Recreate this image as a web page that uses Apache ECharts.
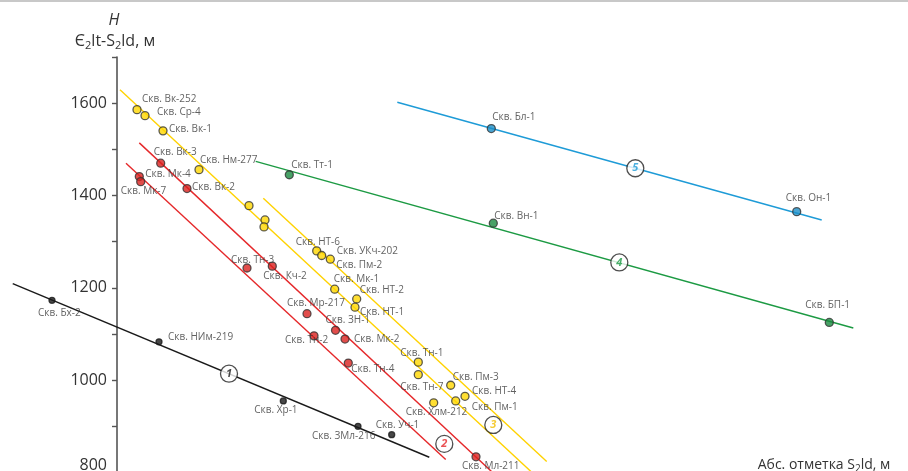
<!DOCTYPE html>
<html><head><meta charset="utf-8">
<script src="https://cdn.jsdelivr.net/npm/echarts@6/dist/echarts.min.js"></script>
<style>html,body{margin:0;padding:0;background:#fff}#c{width:908px;height:471px}</style>
</head><body><div id="c"></div>
<script>
// ---- data (x: абс. отметка S2ld, условные единицы; H: мощность Є2lt-S2ld, м) ----
const yellowNames = ['Скв. Вк-252','Скв. Ср-4','Скв. Вк-1','Скв. Нм-277','','','','Скв. НТ-6','Скв. УКч-202','Скв. Пм-2','Скв. Мк-1','Скв. НТ-2','Скв. НТ-1','Скв. Тн-1','Скв. Тн-7','Скв. Пм-3','Скв. НТ-4','Скв. Пм-1','Скв. Хлм-212'];
const yellowX = [20,28,46,82,132,148,147,199.7,204.7,213.3,217.7,239.7,238,301.3,301.3,333.7,348,338.7,316.7];
const yellowH = [1586,1573,1540,1456,1378,1347,1332,1280,1270,1262,1197,1176,1158,1039,1012,989,965,955,951];

const redNames = ['Скв. Вк-3','Скв. Мк-4','Скв. Мк-7','Скв. Вк-2','Скв. Тн-3','Скв. Кч-2','Скв. Мр-217','Скв. ЗН-1','Скв. Тн-2','Скв. Мк-2','Скв. Тн-4','Скв. Мл-211'];
const redX = [43.7,22.3,23.7,70,130,155.3,190,218.5,197,228,231.3,359];
const redH = [1470,1441,1430,1415,1243,1247,1144,1108,1096,1089,1037,834];

const blackNames = ['Скв. Бх-2','Скв. НИм-219','Скв. Хр-1','Скв. ЗМл-216','Скв. Уч-1'];
const blackX = [-65,42,166.3,241,274.7];
const blackH = [1173,1083,955,900,882];

const greenNames = ['Скв. Тт-1','Скв. Вн-1','Скв. БП-1'];
const greenX = [172.3,376.3,712.3];
const greenH = [1445,1340,1125];

const blueNames = ['Скв. Бл-1','Скв. Он-1'];
const blueX = [374.3,679.7];
const blueH = [1545,1365];

// trend lines (end points)
const lineBlackX = [-104.3,312.3],  lineBlackH = [1209,833];
const lineRedAX = [9,328.7],        lineRedAH = [1470,828];
const lineRedBX = [22.3,375.6],     lineRedBH = [1514,800];
const lineYellowAX = [3,415],       lineYellowAH = [1629,800];
const lineYellowBX = [146.3,429.7], lineYellowBH = [1394,824];
const lineGreenX = [138.7,736.3],   lineGreenH = [1474,1113];
const lineBlueX = [280.3,704.7],    lineBlueH = [1602,1347];

// zone markers
const badgeText = ['1','2','3','4','5'];
const badgeX = [112,327.3,376.3,502.3,518.3];
const badgeH = [1014,862,903,1255,1459];

const yTicks = [800,1000,1200,1400,1600];

// ---- layout (label offsets, px) ----
const yellowOff = [[5,-10],[12,-3],[6,-2],[1,-9],[0,0],[0,0],[0,0],[-21,-9],[15,-4],[6,6],[-1,-10],[3,-9],[5,5],[-18,-9],[-18,13],[2,-8],[7,-5],[16,6],[-28,9]];
const redOff = [[-7,-11],[6,-2],[-20,10],[5,-1],[-16,-8],[-9,10],[-20,-11],[-10,-10],[-29,4],[9,0],[3,6],[-14,9]];
const blackOff = [[-14,13],[9,-5],[-29,9],[-46,10],[-16,-9]];
const greenOff = [[2,-10],[1,-7],[-24,-17]];
const blueOff = [[1,-11],[-11,-14]];

const FONT = '"Open Sans", "Noto Sans", sans-serif';
const C = {yellow:'#FFD200', red:'#E5282A', black:'#1a1a1a', green:'#1C9A43', blue:'#1E9BD7'};

function pts(names, xs, hs, offs){
  return names.map((n,i)=>({name:n, value:[xs[i],hs[i]], label:{offset:offs[i]}}));
}
function lineSeries(xs, hs, color){
  return {type:'line', data:xs.map((x,i)=>[x,hs[i]]), symbol:'none', silent:true, z:2,
          lineStyle:{color:color, width:1.4}};
}
function scatterSeries(data, fill, border, size){
  return {type:'scatter', data:data, symbol:'circle', symbolSize:size, z:5, silent:true,
    itemStyle:{color:fill, borderColor:border, borderWidth:1.3},
    label:{show:true, position:'inside', align:'left', verticalAlign:'middle',
      formatter:p=>p.name, fontSize:10, color:'#3a3a3a', fontFamily:FONT}};
}
const badgeColors = [C.black, C.red, '#F2BE00', C.green, C.blue];

const chart = echarts.init(document.getElementById('c'));
chart.setOption({
  animation:false,
  backgroundColor:'#fff',
  grid:{left:0, right:0, top:57, height:415.5, outerBoundsMode:'none'},
  xAxis:{type:'value', min:-117, max:791, show:false},
  yAxis:{type:'value', min:800, max:1700, interval:100, position:'left', offset:-117,
    axisLine:{show:true, onZero:false, lineStyle:{color:'#555', width:1.6}},
    axisTick:{show:true, length:5, lineStyle:{color:'#555', width:1.4}},
    axisLabel:{show:true, fontSize:16, color:'#333', margin:10, fontFamily:FONT,
      formatter:function(v){
        const n = Number(v);
        if (yTicks.indexOf(n) < 0) return '';
        return n === yTicks[0] ? '{b|' + n + '}' : String(n);
      },
      rich:{b:{fontSize:16, color:'#333', fontFamily:FONT, padding:[0,0,14,0]}}},
    splitLine:{show:false}},
  series:[
    lineSeries(lineBlackX,lineBlackH,C.black),
    lineSeries(lineRedAX,lineRedAH,C.red),
    lineSeries(lineRedBX,lineRedBH,C.red),
    lineSeries(lineYellowAX,lineYellowAH,C.yellow),
    lineSeries(lineYellowBX,lineYellowBH,C.yellow),
    lineSeries(lineGreenX,lineGreenH,C.green),
    lineSeries(lineBlueX,lineBlueH,C.blue),
    scatterSeries(pts(yellowNames,yellowX,yellowH,yellowOff),'#FFD700','#333',8),
    scatterSeries(pts(redNames,redX,redH,redOff),'#D9201E','#333',8),
    scatterSeries(pts(blackNames,blackX,blackH,blackOff),'#1a1a1a','#1a1a1a',6),
    scatterSeries(pts(greenNames,greenX,greenH,greenOff),'#1a8a40','#333',8),
    scatterSeries(pts(blueNames,blueX,blueH,blueOff),'#1b8fc8','#333',8),
    {type:'scatter', z:6, silent:true, symbol:'circle', symbolSize:17,
      itemStyle:{color:'#fff', borderColor:'#222', borderWidth:1.3},
      data:badgeText.map((t,i)=>({name:t, value:[badgeX[i],badgeH[i]], label:{color:badgeColors[i]}})),
      label:{show:true, position:'inside', formatter:p=>p.name, fontSize:11, fontStyle:'italic',
        fontWeight:'bold', fontFamily:FONT}}
  ],
  graphic:[
    {type:'rect', shape:{x:0,y:0,width:908,height:2}, style:{fill:'#c8c8c8'}, silent:true},
    {type:'text', x:114, y:20, silent:true, style:{text:'H', font:'italic 16px "Open Sans"', fill:'#333', textAlign:'center', textVerticalAlign:'middle'}},
    {type:'text', x:115, y:41, silent:true, style:{text:'{a|Є}{s|2}{a|lt-S}{s|2}{a|ld, м}', textAlign:'center', textVerticalAlign:'middle',
      rich:{a:{fontSize:16, fontFamily:FONT, fill:'#333', color:'#333', lineHeight:20}, s:{fontSize:11, fontFamily:FONT, color:'#333', fill:'#333', verticalAlign:'bottom', lineHeight:20}}}},
    {type:'text', x:824, y:465, silent:true, style:{text:'{a|Абс. отметка S}{s|2}{a|ld, м}', textAlign:'center', textVerticalAlign:'middle',
      rich:{a:{fontSize:14, fontFamily:FONT, color:'#333', fill:'#333', lineHeight:18}, s:{fontSize:10, fontFamily:FONT, color:'#333', fill:'#333', verticalAlign:'bottom', lineHeight:18}}}}
  ]
});
</script>
</body></html>
